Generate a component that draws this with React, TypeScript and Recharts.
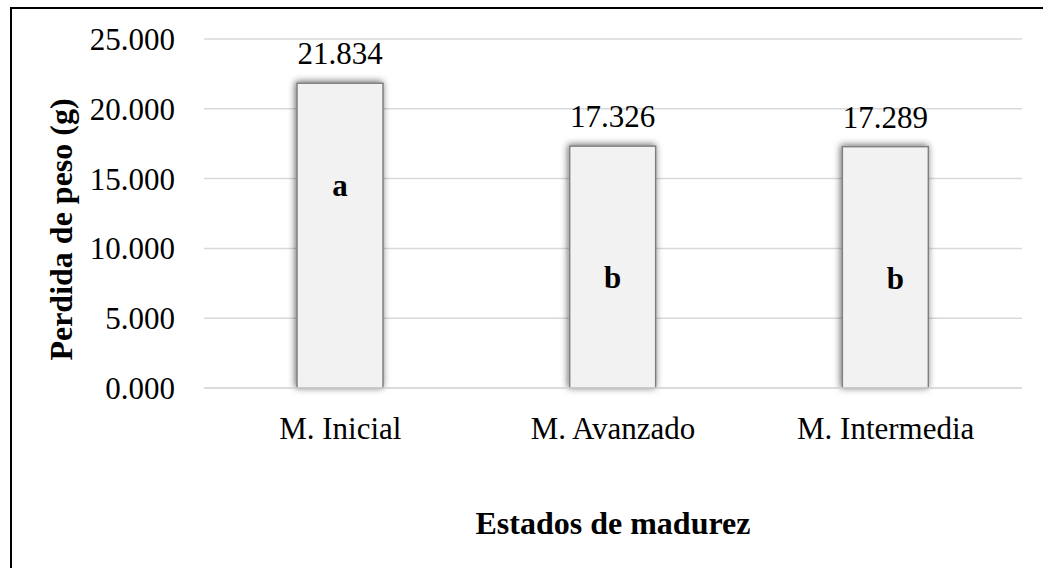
import React from "react";
import { BarChart, Bar, XAxis, YAxis, CartesianGrid, LabelList, Label } from "recharts";

// chart data
const categories = ["M. Inicial", "M. Avanzado", "M. Intermedia"];
const pesoPerdido = [21.834, 17.326, 17.289];
const letters = ["a", "b", "b"];
const yTicks = [0, 5, 10, 15, 20, 25];

const data = categories.map((name, i) => ({
  name,
  value: pesoPerdido[i],
  letter: letters[i],
}));

const FONT = "Liberation Serif, Times New Roman, serif";
const LETTER_BASE = [113, 142, 142];
const LETTER_DX = [0, 0, 10];

function ShadowBar(props: any) {
  const { x, y, width, height, index } = props;
  const id = `bar-shadow-${index}`;
  return (
    <g>
      <defs>
        <filter id={id} x="-30%" y="-10%" width="160%" height="120%">
          <feDropShadow dx={-1} dy={-1} stdDeviation={3.5} floodColor="#000" floodOpacity={0.6} />
        </filter>
      </defs>
      <rect
        x={x}
        y={y}
        width={width}
        height={height}
        fill="#f2f2f2"
        stroke="#7f7f7f"
        strokeWidth={1.5}
        filter={`url(#${id})`}
      />
    </g>
  );
}

function LetterLabel(props: any) {
  const { x, y, width, value, index } = props;
  return (
    <text
      x={x + width / 2 + LETTER_DX[index]}
      y={y + LETTER_BASE[index]}
      textAnchor="middle"
      fontFamily={FONT}
      fontWeight="bold"
      fontSize={31}
      fill="#000"
    >
      {value}
    </text>
  );
}

function YTitle(props: any) {
  const { viewBox } = props;
  const bx = viewBox.x + 72;
  const cy = viewBox.y + viewBox.height / 2 + 16;
  return (
    <text
      x={bx}
      y={cy}
      transform={`rotate(-90 ${bx} ${cy})`}
      textAnchor="middle"
      fontFamily={FONT}
      fontWeight="bold"
      fontSize={32}
      fill="#000"
    >
      Perdida de peso (g)
    </text>
  );
}

export default function App() {
  return (
    <div
      style={{
        position: "fixed",
        left: 0,
        top: 0,
        width: 1043,
        height: 568,
        overflow: "hidden",
        background: "#fff",
      }}
    >
      <div
        style={{
          position: "absolute",
          left: 10,
          top: 7,
          width: 1100,
          height: 620,
          border: "2px solid #000",
        }}
      />
      <div style={{ position: "absolute", left: 0, top: 0 }}>
        <BarChart
          width={1043}
          height={568}
          data={data}
          margin={{ top: 39, right: 21, bottom: 30, left: 0 }}
          barSize={86}
        >
          <CartesianGrid vertical={false} stroke="#d9d9d9" strokeWidth={1.5} />
          <XAxis
            dataKey="name"
            height={150}
            tickLine={false}
            tickSize={0}
            tickMargin={29}
            axisLine={{ stroke: "#d9d9d9", strokeWidth: 1.5 }}
            tick={{ fill: "#000", fontSize: 31, fontFamily: FONT }}
          >
            <Label
              value="Estados de madurez"
              position="insideBottom"
              offset={4}
              style={{ fill: "#000", fontSize: 32, fontFamily: FONT, fontWeight: "bold" }}
            />
          </XAxis>
          <YAxis
            width={204}
            domain={[0, 25]}
            ticks={yTicks}
            tickLine={false}
            tickSize={0}
            tickMargin={29}
            axisLine={false}
            tickFormatter={(v: number) => v.toFixed(3)}
            tick={{ fill: "#000", fontSize: 31, fontFamily: FONT }}
          >
            <Label content={<YTitle />} />
          </YAxis>
          <Bar dataKey="value" shape={<ShadowBar />} isAnimationActive={false}>
            <LabelList
              dataKey="value"
              position="top"
              offset={19}
              formatter={(v: any) => Number(v).toFixed(3)}
              style={{ fill: "#000", fontSize: 31, fontFamily: FONT }}
            />
            <LabelList dataKey="letter" content={<LetterLabel />} />
          </Bar>
        </BarChart>
      </div>
    </div>
  );
}
